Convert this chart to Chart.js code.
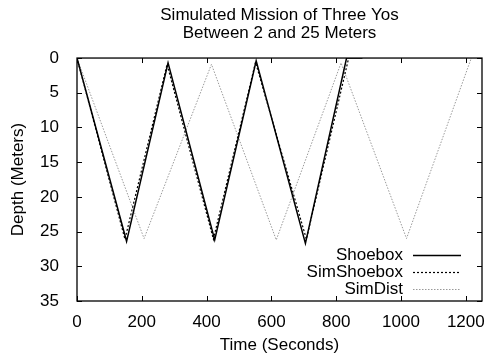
<!DOCTYPE html>
<html>
<head>
<meta charset="utf-8">
<script src="https://cdn.jsdelivr.net/npm/chart.js@4.4.1/dist/chart.umd.min.js"></script>
<style>
  html, body { margin: 0; padding: 0; background: #fff; }
  #wrap { width: 490px; height: 356px; }
</style>
</head>
<body>
<div id="wrap"><canvas id="yos"></canvas></div>
<script>
// values: time in seconds, depth in meters
const shoeboxTime = [0, 153, 281, 425, 553, 705, 832, 881];
const shoeboxDepth = [0, 26.4, 0.7, 26.2, 0.4, 26.7, 0, 0];

const simShoeboxTime = [0, 148, 278, 421, 551, 708, 838];
const simShoeboxDepth = [0, 26.1, 0.9, 26.1, 0.6, 26.1, 0.1];

const simDistTime = [0, 207, 415, 615, 815, 1017, 1217];
const simDistDepth = [0, 26.0, 0.9, 26.2, 0.7, 26.0, 0];

const xTicks = [0, 200, 400, 600, 800, 1000, 1200];
const yTicks = [0, 5, 10, 15, 20, 25, 30, 35];

const FONT = 'Liberation Sans, Arial, sans-serif';

function pts(xs, ys) {
  return xs.map((x, i) => ({ x: x, y: ys[i] }));
}

// gnuplot style frame with inward ticks on all four sides
const frame = {
  id: 'frame',
  afterDatasetsDraw(chart) {
    const { ctx, chartArea: a, scales } = chart;
    ctx.save();
    ctx.strokeStyle = '#000';
    ctx.lineWidth = 1.3;
    ctx.strokeRect(a.left, a.top, a.right - a.left, a.bottom - a.top);
    ctx.lineWidth = 1;
    ctx.beginPath();
    xTicks.forEach(v => {
      const x = Math.round(scales.x.getPixelForValue(v)) + 0.5;
      ctx.moveTo(x, a.bottom); ctx.lineTo(x, a.bottom - 5);
      ctx.moveTo(x, a.top); ctx.lineTo(x, a.top + 5);
    });
    yTicks.forEach(v => {
      const y = Math.round(scales.y.getPixelForValue(v)) + 0.5;
      ctx.moveTo(a.left, y); ctx.lineTo(a.left + 5, y);
      ctx.moveTo(a.right, y); ctx.lineTo(a.right - 5, y);
    });
    ctx.stroke();
    ctx.restore();
  }
};

// key in the lower right, text right aligned with the line sample after it
const key = {
  id: 'key',
  afterDraw(chart) {
    const { ctx } = chart;
    const rows = [255, 272, 289];
    ctx.save();
    ctx.font = '17px ' + FONT;
    ctx.textAlign = 'right';
    ctx.textBaseline = 'middle';
    ctx.fillStyle = '#000';
    chart.data.datasets.forEach((ds, i) => {
      const y = rows[i];
      ctx.fillText(ds.label, 403, y);
      ctx.strokeStyle = ds.borderColor;
      ctx.lineWidth = ds.borderWidth;
      ctx.setLineDash(ds.borderDash || []);
      ctx.beginPath();
      ctx.moveTo(413, y + 0.5);
      ctx.lineTo(461, y + 0.5);
      ctx.stroke();
    });
    ctx.restore();
  }
};

new Chart(document.getElementById('yos'), {
  type: 'line',
  data: {
    datasets: [
      {
        label: 'Shoebox',
        data: pts(shoeboxTime, shoeboxDepth),
        borderColor: '#000',
        borderWidth: 1.5,
        pointRadius: 0,
        tension: 0
      },
      {
        label: 'SimShoebox',
        data: pts(simShoeboxTime, simShoeboxDepth),
        borderColor: '#000',
        borderWidth: 1.2,
        borderDash: [2, 2],
        pointRadius: 0,
        tension: 0
      },
      {
        label: 'SimDist',
        data: pts(simDistTime, simDistDepth),
        borderColor: '#999',
        borderWidth: 1,
        borderDash: [1.5, 1.5],
        pointRadius: 0,
        tension: 0
      }
    ]
  },
  options: {
    responsive: true,
    maintainAspectRatio: false,
    animation: false,
    layout: { padding: { left: 0, right: 8, top: 0, bottom: 0 } },
    plugins: {
      legend: { display: false },
      tooltip: { enabled: false },
      title: {
        display: true,
        fullSize: false,
        text: ['Simulated Mission of Three Yos', 'Between 2 and 25 Meters'],
        color: '#000',
        font: { family: FONT, size: 17, weight: 'normal', lineHeight: 1.06 },
        padding: { top: 6, bottom: 16 }
      }
    },
    scales: {
      x: {
        type: 'linear',
        min: 0,
        max: 1250,
        afterFit(scale) { scale.height = 55; },
        afterBuildTicks(scale) { scale.ticks = xTicks.map(v => ({ value: v })); },
        grid: { display: false },
        border: { display: false },
        ticks: {
          color: '#000',
          padding: 3,
          font: { family: FONT, size: 17 },
          callback: v => String(v)
        },
        title: {
          display: true,
          text: 'Time (Seconds)',
          color: '#000',
          font: { family: FONT, size: 17 },
          padding: { top: 0, bottom: 0 }
        }
      },
      y: {
        type: 'linear',
        reverse: true,
        min: 0,
        max: 35,
        afterFit(scale) { scale.width = 77; },
        afterBuildTicks(scale) { scale.ticks = yTicks.map(v => ({ value: v })); },
        grid: { display: false },
        border: { display: false },
        ticks: {
          color: '#000',
          padding: 10,
          font: { family: FONT, size: 17 },
          callback: v => String(v)
        },
        title: {
          display: true,
          text: 'Depth (Meters)',
          color: '#000',
          font: { family: FONT, size: 17 },
          padding: { top: 8, bottom: 0 }
        }
      }
    }
  },
  plugins: [frame, key]
});
</script>
</body>
</html>
